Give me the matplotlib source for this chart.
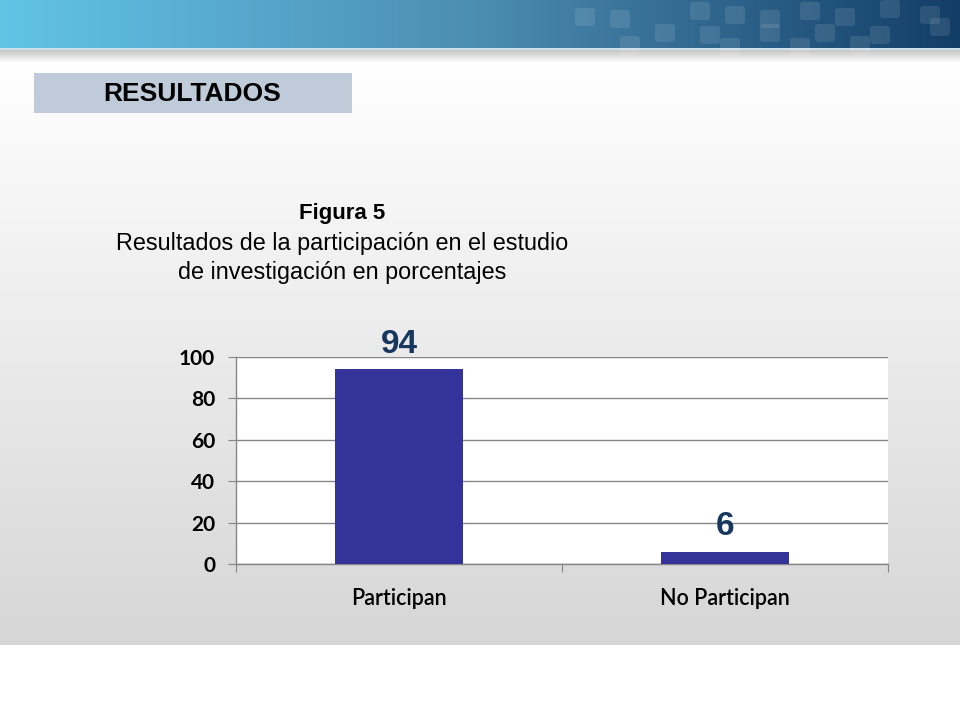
import numpy as np
import matplotlib.pyplot as plt
from matplotlib.patches import Rectangle, FancyBboxPatch

# Datos
categorias = ['Participan', 'No Participan']
porcentajes = [94, 6]
ticks_y = [0, 20, 40, 60, 80, 100]

color_barra = '#333399'
color_etiqueta = '#17375e'

fig = plt.figure(figsize=(9.6, 7.2), dpi=100)

# Fondo de la diapositiva (coordenadas en pixeles)
fondo = fig.add_axes([0, 0, 1, 1])
fondo.set_xlim(0, 960)
fondo.set_ylim(720, 0)
fondo.axis('off')

img = np.ones((720, 960, 3))
# degradado gris del cuerpo
filas = np.arange(720)
t = np.clip((filas - 60) / (645 - 60), 0, 1)
gris = 1 - t * (1 - 0.84)
img[60:645, :, :] = gris[60:645, None, None]
# sombra bajo la banda
for y in range(50, 62):
    v = 0.78 + (y - 50) / 12 * 0.22
    img[y, :, :] = v
# banda superior azul
c1 = np.array([0.38, 0.77, 0.90])
c2 = np.array([0.30, 0.55, 0.70])
c3 = np.array([0.07, 0.24, 0.40])
xs = np.linspace(0, 1, 960)
banda = np.where(xs[:, None] < 0.5,
                 c1 + (c2 - c1) * (xs[:, None] / 0.5),
                 c2 + (c3 - c2) * ((xs[:, None] - 0.5) / 0.5))
img[0:48, :, :] = banda[None, :, :]
img[48:50, :, :] = [0.80, 0.88, 0.93]
fondo.imshow(img, extent=(0, 960, 720, 0), aspect='auto', zorder=0)

# cuadritos decorativos de la banda
cuadros = [(575, 8), (610, 10), (690, 2), (725, 6), (760, 10), (800, 2), (835, 8),
           (880, 0), (920, 6), (655, 24), (700, 26), (760, 24), (815, 24), (870, 26),
           (930, 18), (620, 36), (720, 38), (790, 38), (850, 36)]
for cx, cy in cuadros:
    fondo.add_patch(FancyBboxPatch((cx, cy), 20, 18, boxstyle='round,pad=0,rounding_size=3',
                                   facecolor='white', edgecolor='none', alpha=0.10, zorder=1))

# caja RESULTADOS
fondo.add_patch(Rectangle((34, 73), 318, 40, facecolor='#bfcbd9', edgecolor='none', zorder=1))
fondo.text(192, 94, 'RESULTADOS', ha='center', va='center', fontsize=19,
           fontweight='bold', family='Liberation Sans', color='black', zorder=2)

# titulo
fondo.text(342, 213, 'Figura 5', ha='center', va='center', fontsize=16,
           fontweight='bold', family='Liberation Sans', zorder=2)
fondo.text(342, 258, 'Resultados de la participación en el estudio\nde investigación en porcentajes',
           ha='center', va='center', fontsize=16.8, family='Liberation Sans',
           linespacing=1.32, zorder=2)

# grafico de barras
ax = fig.add_axes([236 / 960, 1 - 564 / 720, 652 / 960, 207 / 720])
ax.set_facecolor('white')
x = np.arange(len(categorias))
barras = ax.bar(x, porcentajes, width=0.39, color=color_barra, zorder=3)
ax.set_xlim(-0.5, 1.5)
ax.set_ylim(0, 100)
ax.set_yticks(ticks_y)
ax.yaxis.grid(True, color='#868686', linewidth=1, zorder=0)
ax.set_axisbelow(True)

for s in ['top', 'right']:
    ax.spines[s].set_visible(False)
for s in ['left', 'bottom']:
    ax.spines[s].set_color('#868686')
    ax.spines[s].set_linewidth(1)

ax.set_xticks([-0.5, 0.5, 1.5])
ax.set_xticklabels([])
ax.set_xticks(x, minor=True)
ax.set_xticklabels(categorias, minor=True, fontsize=15.5, family='Lato', fontweight='semibold')
ax.tick_params(axis='x', which='major', length=6, color='#868686', direction='out')
ax.tick_params(axis='x', which='minor', length=0, pad=17)
ax.tick_params(axis='y', length=6, color='#868686', direction='out', pad=9)
for lab in ax.get_yticklabels():
    lab.set_fontsize(15)
    lab.set_fontweight('bold')
    lab.set_family('Lato')

for b, v in zip(barras, porcentajes):
    ax.annotate(str(v), (b.get_x() + b.get_width() / 2, v), xytext=(0, 7),
                textcoords='offset points', ha='center', va='bottom',
                fontsize=24, fontweight='bold', family='Liberation Sans',
                color=color_etiqueta, annotation_clip=False, zorder=4)

fig.savefig('out.png', dpi=100)
